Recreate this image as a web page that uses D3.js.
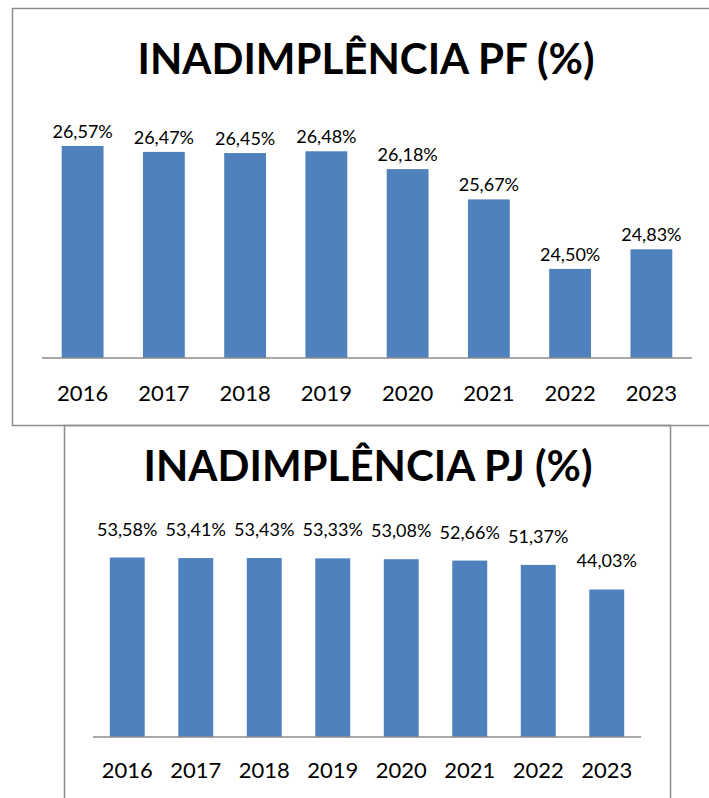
<!DOCTYPE html>
<html>
<head>
<meta charset="utf-8">
<script src="https://cdn.jsdelivr.net/npm/d3@7"></script>
<style>
  html, body { margin: 0; padding: 0; background: #fff; }
  svg { display: block; }
  text { font-family: Lato, "Open Sans", sans-serif; fill: #000; }
</style>
</head>
<body>
<svg id="chart" width="709" height="798"></svg>
<script>
// ---- Data ----
const years = ["2016", "2017", "2018", "2019", "2020", "2021", "2022", "2023"];
const pfValues = [26.57, 26.47, 26.45, 26.48, 26.18, 25.67, 24.50, 24.83];
const pjValues = [53.58, 53.41, 53.43, 53.33, 53.08, 52.66, 51.37, 44.03];
const pfTitle = "INADIMPLÊNCIA PF (%)";
const pjTitle = "INADIMPLÊNCIA PJ (%)";

const svg = d3.select("#chart");
const fmt = v => v.toFixed(2).replace(".", ",") + "%";

function drawChart(opts) {
  const g = svg.append("g");
  // frame
  g.append("rect")
    .attr("x", opts.box[0] + 0.5).attr("y", opts.box[1] + 0.5)
    .attr("width", opts.box[2]).attr("height", opts.box[3])
    .attr("fill", "none").attr("stroke", "#8c8c8c").attr("stroke-width", 1.5);

  // title
  g.append("text")
    .attr("x", opts.titleX).attr("y", opts.titleY)
    .attr("text-anchor", "middle")
    .attr("font-weight", "bold")
    .attr("font-size", opts.titleSize)
    .text(opts.title);

  const x = d3.scaleBand().domain(years).range([opts.x0, opts.x1]).paddingInner(opts.pad).paddingOuter(opts.pad / 2);
  const y = d3.scaleLinear().domain(opts.yDomain).range([opts.yBase, opts.yTop]);

  g.selectAll("rect.bar").data(opts.values).join("rect")
    .attr("class", "bar")
    .attr("x", (d, i) => x(years[i]))
    .attr("width", x.bandwidth())
    .attr("y", d => y(d))
    .attr("height", d => opts.yBase - y(d))
    .attr("fill", "#4f81bd");

  g.selectAll("text.lbl").data(opts.values).join("text")
    .attr("class", "lbl")
    .attr("x", (d, i) => x(years[i]) + x.bandwidth() / 2)
    .attr("y", d => y(d) - opts.labelGap)
    .attr("text-anchor", "middle")
    .attr("font-size", 18)
    .text(fmt);

  const axis = d3.axisBottom(x).tickSize(0).tickPadding(opts.tickPad);
  const ax = g.append("g").attr("transform", `translate(0,${opts.yBase})`).call(axis);
  ax.select(".domain").attr("stroke", "#8c8c8c").attr("stroke-width", 1.5)
    .attr("d", `M${opts.x0},0H${opts.x1}`);
  ax.selectAll("text").attr("font-size", 22).attr("fill", "#000")
    .style("font-family", "Lato, sans-serif");
}

drawChart({
  box: [12, 8, 720, 417],
  title: pfTitle, titleX: 366, titleY: 74, titleSize: 42,
  values: pfValues,
  x0: 42, x1: 692, pad: 0.485,
  yDomain: [23, 27], yBase: 358, yTop: 358 - 4 * 59.4,
  labelGap: 8, tickPad: 27
});

drawChart({
  box: [64, 425, 606, 400],
  title: pjTitle, titleX: 368, titleY: 481, titleSize: 42,
  values: pjValues,
  x0: 93, x1: 641, pad: 0.49,
  yDomain: [0, 60], yBase: 737, yTop: 737 - 60 * 3.35,
  labelGap: 22, tickPad: 25
});
</script>
</body>
</html>
